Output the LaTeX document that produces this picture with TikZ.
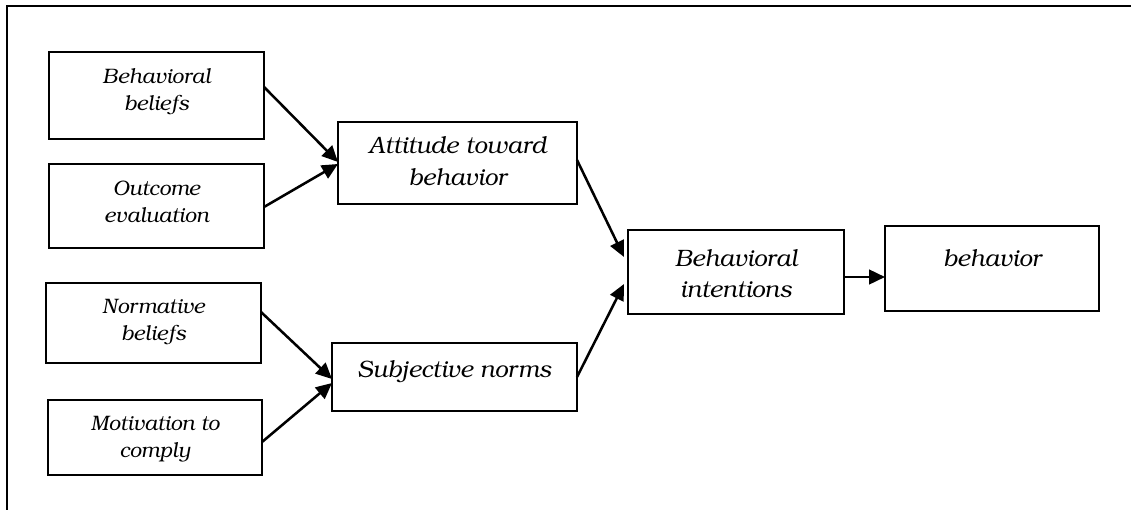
\documentclass[tikz,border=0pt]{standalone}
\usepackage[T1]{fontenc}
\usepackage{bookman}
\usetikzlibrary{arrows.meta}
\newcommand\fl{\rule{0pt}{14pt}}
\begin{document}
\begin{tikzpicture}[x=0.75pt,y=-0.75pt,
  box/.style 2 args={draw,line width=1pt,rectangle,inner sep=0pt,outer sep=0pt,minimum width=#1*0.75pt,minimum height=#2*0.75pt},
  smalltxt/.style={anchor=north,inner sep=0pt,align=center,yshift=14pt,font=\fontsize{15.7}{20.25}\selectfont\itshape},
  bigtxt/.style={anchor=north,inner sep=0pt,align=center,yshift=14pt,font=\fontsize{17.8}{23.25}\selectfont\itshape},
  arr/.style={line width=1.9pt,-{Triangle[length=12pt,width=11pt]}},
  frame/.style={line width=1.8pt}]
\useasboundingbox (0,0) rectangle (1131,510);
\coordinate (fa) at (7,510);
\coordinate (fb) at (7,6);
\coordinate (fc) at (1131,6);
\draw[frame] (fa) -- (fb) -- (fc);
% boxes
\node[box={215}{87}] (bb) at (156.5,95.5) {};
\node[box={215}{84}] (oe) at (156.5,206) {};
\node[box={215}{80}] (nb) at (153.5,323) {};
\node[box={214}{75}] (mc) at (155,437.5) {};
\node[box={239}{82}] (att) at (457.5,163) {};
\node[box={245}{68}] (sn) at (454.5,377) {};
\node[box={216}{84}] (bi) at (736,272) {};
\node[box={214}{85}] (beh) at (992,268.5) {};
% texts
\node[smalltxt] (bbt) at (156.5,83) {\fl Behavioral\\beliefs};
\node[smalltxt] (oet) at (156.5,195) {\fl Outcome\\evaluation};
\node[smalltxt] (nbt) at (153.5,313) {\fl Normative\\beliefs};
\node[smalltxt] (mct) at (155,430) {\fl Motivation to\\comply};
\node[bigtxt,font=\fontsize{17.8}{24}\selectfont\itshape] (attt) at (457.5,153) {\fl Attitude toward\\behavior};
\node[bigtxt] (snt) at (454.5,377) {\fl Subjective norms};
\node[bigtxt] (bit) at (736,266) {\fl Behavioral\\intentions};
\node[bigtxt] (beht) at (992,266) {\fl behavior};
% arrows
\draw[arr] ([yshift=6.4pt]bb.east) -- ([yshift=0.75pt]att.west);
\draw[arr] ([yshift=-0.75pt]oe.east) -- ([yshift=-0.75pt]att.west);
\draw[arr] ([yshift=2.25pt]att.east) -- ([yshift=11.25pt,xshift=-3pt]bi.west);
\draw[arr] (sn.east) -- ([yshift=-9pt,xshift=-3pt]bi.west);
\coordinate (bo) at ([yshift=-3.75pt]bi.east);
\draw[arr] (bo) -- (bo -| beh.west);
\draw[arr] ([yshift=8.25pt]nb.east) -- ([yshift=-1.5pt]sn.west);
\draw[arr] ([yshift=-3.4pt]mc.east) -- ([yshift=-4.5pt]sn.west);
\end{tikzpicture}
\end{document}
